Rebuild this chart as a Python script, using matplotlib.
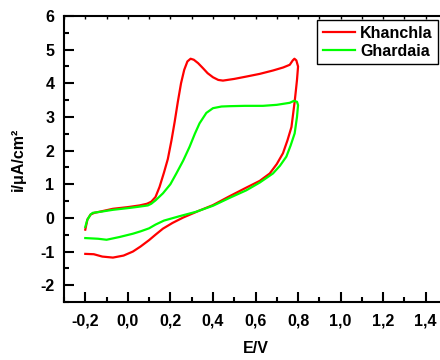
import matplotlib
matplotlib.use('Agg')
from matplotlib import pyplot as plt
from matplotlib.ticker import MultipleLocator, FuncFormatter

plt.rcParams['font.family'] = ['Liberation Sans', 'DejaVu Sans']
plt.rcParams['font.weight'] = 'bold'
plt.rcParams['axes.unicode_minus'] = False

# Khanchla: forward scan then reverse scan
khanchla_e = [-0.20, -0.19, -0.175, -0.157, -0.12, -0.07, 0.0, 0.055, 0.09, 0.11,
              0.13, 0.149, 0.17, 0.188, 0.205, 0.22, 0.235, 0.25, 0.265, 0.28,
              0.295, 0.31, 0.33, 0.353, 0.375, 0.40, 0.425, 0.447, 0.5, 0.557,
              0.62, 0.682, 0.73, 0.761, 0.775, 0.783, 0.792, 0.80,
              0.795, 0.79, 0.784, 0.777, 0.769, 0.75, 0.729, 0.70, 0.667, 0.62,
              0.557, 0.48, 0.40, 0.33, 0.26, 0.21, 0.165, 0.13, 0.10, 0.06,
              0.024, -0.02, -0.07, -0.12, -0.16, -0.20]
khanchla_i = [-0.35, -0.05, 0.10, 0.15, 0.20, 0.27, 0.32, 0.37, 0.42, 0.48,
              0.62, 0.92, 1.35, 1.75, 2.3, 2.85, 3.45, 4.0, 4.4, 4.65,
              4.73, 4.70, 4.60, 4.45, 4.3, 4.18, 4.1, 4.08, 4.13, 4.20,
              4.28, 4.38, 4.47, 4.55, 4.68, 4.73, 4.68, 4.50,
              4.1, 3.8, 3.45, 3.1, 2.7, 2.3, 1.92, 1.6, 1.32, 1.1,
              0.90, 0.65, 0.38, 0.20, 0.01, -0.15, -0.32, -0.5, -0.66, -0.85,
              -1.0, -1.12, -1.18, -1.15, -1.08, -1.07]

# Ghardaia: forward scan then reverse scan
ghardaia_e = [-0.20, -0.19, -0.175, -0.165, -0.13, -0.07, 0.0, 0.05, 0.094, 0.11,
              0.13, 0.165, 0.2, 0.228, 0.26, 0.29, 0.315, 0.337, 0.369, 0.40,
              0.44, 0.479, 0.55, 0.635, 0.70, 0.761, 0.781, 0.795, 0.80,
              0.795, 0.784, 0.765, 0.745, 0.715, 0.682, 0.62, 0.557, 0.48, 0.40,
              0.32, 0.243, 0.17, 0.13, 0.10, 0.06, 0.024, -0.04, -0.10, -0.14, -0.20]
ghardaia_i = [-0.27, -0.05, 0.10, 0.15, 0.18, 0.24, 0.29, 0.33, 0.37, 0.42,
              0.52, 0.73, 1.0, 1.32, 1.7, 2.11, 2.5, 2.81, 3.12, 3.26,
              3.31, 3.32, 3.33, 3.33, 3.36, 3.42, 3.48, 3.45, 3.35,
              3.0, 2.51, 2.15, 1.82, 1.55, 1.32, 1.05, 0.82, 0.6, 0.36,
              0.18, 0.05, -0.08, -0.2, -0.31, -0.4, -0.47, -0.57, -0.65, -0.62, -0.60]

fig = plt.figure(figsize=(4.4, 3.6), dpi=100)
ax = fig.add_axes([64 / 440, 58 / 360, 383 / 440, 286 / 360])

ax.plot(khanchla_e, khanchla_i, color='#ff0000', linewidth=1.6, label='Khanchla')
ax.plot(ghardaia_e, ghardaia_i, color='#00ff00', linewidth=1.6, label='Ghardaia')

ax.set_xlim(-0.3, 1.5)
ax.set_ylim(-2.5, 6)

comma = FuncFormatter(lambda v, p: ('%.1f' % v).replace('.', ','))
ax.xaxis.set_minor_locator(MultipleLocator(0.1))
ax.xaxis.set_major_formatter(comma)
ax.yaxis.set_minor_locator(MultipleLocator(0.5))
ax.set_xticks([-0.2, 0.0, 0.2, 0.4, 0.6, 0.8, 1.0, 1.2, 1.4])
ax.set_yticks([-2, -1, 0, 1, 2, 3, 4, 5, 6])

ax.tick_params(axis='both', which='major', direction='in', length=7, width=1.5,
               labelsize=11.5, top=False, right=False)
ax.tick_params(axis='both', which='minor', direction='in', length=3.5, width=1.5,
               top=False, right=False)
ax.tick_params(axis='x', which='both', pad=8)
ax.tick_params(axis='y', which='both', pad=7)

# small ticks along the top edge
top = ax.secondary_xaxis('top')
top.set_xticks([t / 10 for t in range(-3, 16)])
top.tick_params(direction='in', length=2, width=1, labeltop=False)
top.spines['top'].set_visible(False)

for s in ax.spines.values():
    s.set_linewidth(1.5)

ax.set_xlabel('E/V', fontsize=11.5, fontweight='bold', labelpad=9)
ax.set_ylabel('i/\u03bcA/cm\u00b2', fontsize=11.5, fontweight='bold', labelpad=10)

leg = ax.legend(loc='upper left', bbox_to_anchor=(317 / 440, 1 - 20 / 360),
                bbox_transform=fig.transFigure, borderaxespad=0, fancybox=False,
                framealpha=1, edgecolor='black', handlelength=2.0,
                handletextpad=0.35, borderpad=0.35, labelspacing=0.2,
                prop={'size': 11.5, 'weight': 'bold'})
leg.get_frame().set_linewidth(1.0)

fig.savefig('out.png', dpi=100)
